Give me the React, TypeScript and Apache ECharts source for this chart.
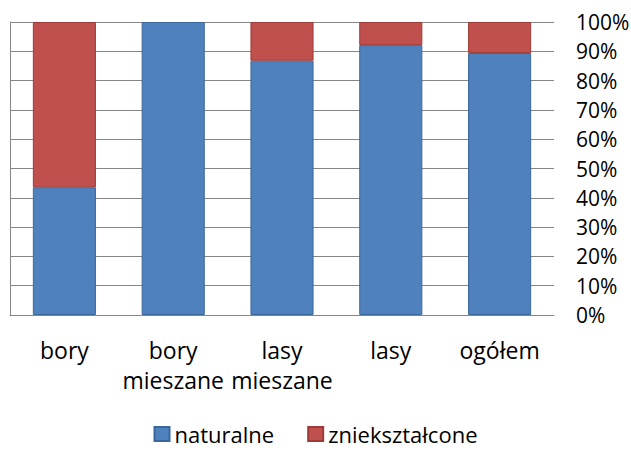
import React, { useEffect, useRef } from "react";
import * as echarts from "echarts";

const categories = ["bory", "bory\nmieszane", "lasy\nmieszane", "lasy", "ogółem"];
const naturalne = [43.6, 100, 86.8, 92.1, 89.4];
const znieksztalcone = [56.4, 0, 13.2, 7.9, 10.6];
const seriesNames = ["naturalne", "zniekształcone"];

const FONT = "Open Sans";
const FS = 23;

const noZero = (arr: number[]) => arr.map((v) => (v === 0 ? "-" : v));

export default function App() {
  const ref = useRef<HTMLDivElement>(null);
  useEffect(() => {
    const chart = echarts.init(ref.current!, null, { renderer: "svg" });
    chart.setOption({
      animation: false,
      textStyle: { fontFamily: FONT, color: "#000" },
      grid: { left: 10, right: 77, top: 22, bottom: 135, outerBoundsMode: "none", containLabel: false },
      legend: {
        top: 423,
        left: "center",
        padding: 0,
        itemWidth: 15,
        itemHeight: 14,
        itemGap: 33,
        textStyle: { fontFamily: FONT, fontSize: 22, lineHeight: 22, color: "#000" },
        data: seriesNames.map((n) => ({ name: n, icon: "rect" })),
      },
      xAxis: {
        type: "category",
        data: categories,
        axisLine: { show: true, lineStyle: { color: "#868686", width: 1 } },
        axisTick: { show: false },
        axisLabel: {
          fontFamily: FONT,
          fontSize: FS,
          color: "#000",
          lineHeight: 30,
          margin: 20,
          interval: 0,
        },
      },
      yAxis: [
        {
          type: "value",
          position: "right",
          min: 0,
          max: 100,
          interval: 10,
          axisLine: { show: false },
          axisTick: { show: false },
          splitLine: { show: true, lineStyle: { color: "#868686", width: 1 } },
          axisLabel: {
            fontFamily: FONT,
            fontSize: 21,
            color: "#000",
            margin: 22,
            formatter: (v: number) => v + "%",
          },
        },
        {
          type: "value",
          position: "left",
          min: 0,
          max: 100,
          axisLine: { show: true, lineStyle: { color: "#868686", width: 1 } },
          axisTick: { show: false },
          splitLine: { show: false },
          axisLabel: { show: false },
        },
      ],
      series: [
        {
          name: seriesNames[0],
          type: "bar",
          stack: "total",
          barWidth: "58%",
          data: noZero(naturalne),
          itemStyle: { color: "#4F81BD", borderColor: "#3A679C", borderWidth: 1 },
        },
        {
          name: seriesNames[1],
          type: "bar",
          stack: "total",
          barWidth: "58%",
          data: noZero(znieksztalcone),
          itemStyle: { color: "#C0504D", borderColor: "#9C3B38", borderWidth: 1 },
        },
      ],
    });
    return () => chart.dispose();
  }, []);
  return (
    <div
      ref={ref}
      style={{ position: "absolute", left: 0, top: 0, width: 631, height: 450, overflow: "hidden" }}
    />
  );
}
